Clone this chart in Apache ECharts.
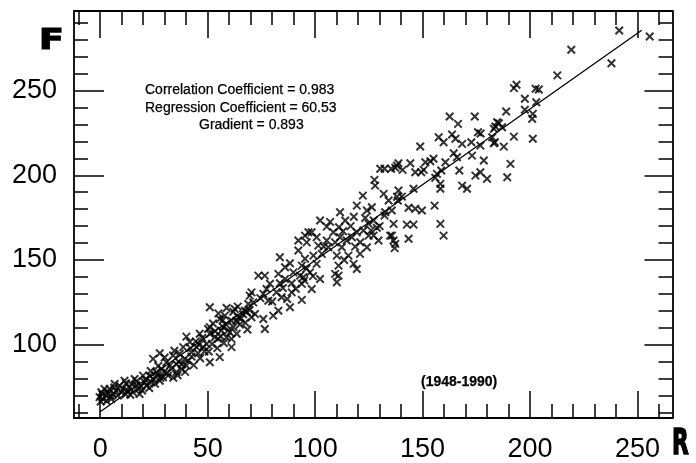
<!DOCTYPE html>
<html>
<head>
<meta charset="utf-8">
<script src="https://cdn.jsdelivr.net/npm/echarts@6/dist/echarts.min.js"></script>
<style>
  html, body { margin: 0; padding: 0; background: #fff; }
  #chart { width: 696px; height: 463px; }
</style>
</head>
<body>
<div id="chart"></div>
<script>
// Sunspot number R and 10.7 cm solar flux F, 1948-1990
const sunspotR = [
  241.5, 255.7, 219.2, 237.9, 212.7, 192.5, 193.7, 202.6, 204.1, 197.6, 202.9, 188.9,
  197.6, 201.3, 201.0, 184.7, 187.0, 183.2, 192.5, 201.3, 183.6, 187.8, 190.9, 189.4,
  162.6, 166.5, 174.3, 185.5, 183.9, 175.8, 177.0, 182.4, 157.5, 159.8, 163.7, 165.3,
  168.4, 172.7, 176.9, 148.9, 183.2, 164.5, 166.0, 173.0, 178.5, 155.1, 153.6, 151.3,
  160.6, 144.3, 138.8, 137.3, 140.7, 132.3, 135.4, 146.6, 149.4, 156.7, 158.7, 167.1,
  174.6, 176.9, 180.0, 155.9, 158.3, 158.3, 168.4, 170.7, 131.9, 138.1, 145.8, 134.2,
  138.5, 143.5, 146.6, 149.7, 155.6, 132.3, 136.5, 142.7, 145.8, 158.3, 159.8, 135.7,
  143.5, 137.3,
  130.3, 138.1, 150.5, 127.6, 127.9, 138.8, 140.4, 122.2, 119.4, 124.1, 126.4, 132.6,
  135.7, 111.6, 114.0, 111.1, 102.3, 105.4, 108.5, 123.3, 127.2, 124.9, 128.7, 119.4,
  122.5, 124.9, 127.2, 129.5, 134.9, 136.5, 137.0, 117.1, 114.7, 111.6, 109.3, 105.4,
  100.7, 98.4, 95.3, 96.1, 106.2, 112.4, 118.6, 124.1, 120.9, 115.5, 110.1, 103.1,
  99.2, 95.3, 100.7, 110.9, 117.9, 119.4, 109.3, 97.6, 94.5,
  96.9, 92.2, 92.2, 83.6, 88.3, 86.0, 93.8, 89.9, 93.0, 102.3, 110.9, 110.1,
  82.9, 86.0, 83.6, 89.1, 93.8, 98.4, 93.8, 89.1, 84.4, 88.3, 82.9, 80.5,
  77.4, 75.9, 73.6, 76.6, 70.4, 69.6, 78.2, 71.2, 72.0, 70.4, 75.9, 76.6,
  67.3, 62.6, 58.8, 51.0, 58.0, 55.6, 61.1, 64.2, 50.2, 56.4, 60.3, 53.3, 58.8,
  61.9, 68.1, 68.9, 63.4, 57.2, 51.0, 51.0, 54.9, 61.1, 61.1, 55.6, 51.0,
  40.1, 46.3, 41.7, 44.8, 47.9, 38.6, 42.4, 37.0, 33.9, 27.7, 24.6, 30.8,
  35.4, 39.3, 40.1, 37.8, 33.1, 28.5, 26.1, 29.2, 31.6, 23.0, 19.9, 20.7,
  23.8, 27.7, 16.0, 14.5, 11.3, 9.0, 6.7, 4.3, 2.0, 0.5, -0.3, 2.8,
  5.9, 9.8, 12.9, 17.6, 18.3, 1.3, 5.1,
  0.2, 1.0, 3.5, 4.8, 7.5, 8.2, 10.5, 11.8, 3.0, 6.5,
  13.5, 15.2, 16.8, 14.0, 19.0, 19.5, 12.0, 17.0,
  21.5, 22.8, 24.5, 25.5, 26.8, 28.0, 21.0, 29.8, 23.5, 27.0,
  31.0, 32.5, 34.0, 35.5, 36.5, 38.0, 39.5, 30.0, 34.5, 36.0,
  41.0, 42.5, 43.5, 44.5, 45.5, 46.5, 47.5, 48.5, 49.5, 42.0, 46.0,
  50.5, 52.0, 53.5, 54.5, 56.0, 57.5, 58.5, 59.5, 52.5, 55.0, 57.0,
  62.0, 63.5, 65.0, 66.5, 67.5, 68.5, 64.0, 69.5, 65.5,
  80.0, 82.0, 85.0, 87.0, 91.0, 95.0, 79.0, 74.5, 96.0, 99.0,
  113.0, 116.5, 118.0, 121.0, 126.0, 130.0, 107.0, 104.0, 101.5, 113.5
];
const fluxF = [
  285.4, 281.9, 274.0, 266.1, 258.9, 251.4, 253.4, 251.0, 250.6, 245.1, 243.1, 237.6,
  238.6, 236.2, 233.3, 231.3, 228.3, 227.4, 222.8, 221.5, 219.5, 216.9, 206.7, 198.8,
  234.7, 230.3, 234.7, 230.7, 228.8, 225.4, 224.6, 222.4, 222.4, 219.5, 224.0, 221.5,
  218.5, 219.5, 217.5, 217.0, 218.9, 213.0, 210.6, 211.6, 208.7, 209.7, 208.3, 207.7,
  207.7, 207.1, 207.1, 204.4, 203.2, 203.8, 203.8, 201.8, 201.8, 200.8, 202.8, 202.8,
  199.8, 201.8, 197.9, 198.5, 194.9, 192.0, 193.9, 192.0, 189.0, 187.3, 192.0, 185.1,
  185.1, 180.8, 180.2, 179.2, 182.1, 176.2, 171.3, 170.9, 170.9, 171.3, 164.4, 164.4,
  162.5, 159.5,
  203.8, 205.7, 203.2, 197.3, 193.9, 191.0, 187.4, 188.0, 182.1, 179.2, 181.1, 178.2,
  179.2, 178.2, 173.3, 169.3, 173.3, 169.7, 166.4, 174.8, 173.3, 171.3, 169.0, 166.4,
  167.4, 164.4, 164.4, 161.5, 164.4, 161.5, 157.0, 163.4, 161.5, 163.4, 160.4, 161.5,
  163.4, 166.4, 164.4, 160.4, 157.5, 157.5, 157.9, 157.5, 153.6, 152.6, 152.6, 153.6,
  152.6, 150.7, 147.7, 146.7, 147.7, 144.7, 141.8, 142.7, 139.8,
  166.4, 161.5, 155.6, 151.6, 148.1, 145.7, 146.7, 142.7, 140.8, 138.8, 140.8, 136.9,
  141.8, 138.8, 136.3, 136.3, 135.9, 132.9, 126.5, 130.9, 128.0, 122.1, 120.1, 117.2,
  132.9, 130.0, 140.8, 140.8, 130.9, 129.0, 126.0, 125.0, 118.2, 116.2, 115.2, 109.3,
  120.1, 121.1, 121.7, 122.1, 117.2, 115.2, 114.2, 116.2, 109.3, 108.3, 107.3, 104.4, 104.4,
  119.5, 119.5, 124.1, 114.2, 110.4, 110.4, 106.5, 103.5, 103.5, 98.6, 92.7, 89.7,
  104.8, 106.5, 101.6, 98.6, 98.6, 98.6, 95.6, 94.7, 93.7, 95.0, 91.7, 89.7,
  88.7, 91.7, 87.7, 85.7, 85.7, 85.7, 83.8, 80.8, 81.8, 81.8, 81.8, 77.9,
  77.9, 78.8, 79.8, 76.9, 78.8, 75.9, 76.9, 73.9, 73.9, 72.0, 69.1, 70.0,
  71.0, 72.0, 72.9, 73.9, 71.0, 68.0, 68.0,
  66.5, 70.8, 72.2, 69.5, 72.5, 70.0, 74.3, 70.8, 66.8, 74.8,
  75.0, 72.0, 76.2, 70.5, 75.5, 73.0, 77.2, 78.5,
  76.0, 74.5, 80.0, 77.0, 82.0, 80.5, 79.5, 84.0, 84.5, 87.5,
  83.5, 88.0, 80.5, 84.0, 90.0, 88.5, 84.0, 92.5, 96.5, 82.0,
  90.5, 93.0, 88.0, 102.0, 95.0, 92.0, 104.0, 96.0, 100.5, 98.0, 100.0,
  96.0, 100.5, 108.0, 98.0, 105.0, 101.0, 112.0, 108.5, 112.5, 118.5, 114.5,
  110.5, 106.5, 112.0, 118.0, 113.0, 109.0, 122.5, 120.5, 115.5,
  125.5, 131.0, 133.5, 127.0, 133.0, 138.0, 136.0, 127.5, 145.0, 140.5,
  167.0, 170.0, 175.5, 160.5, 167.5, 170.0, 172.5, 158.0, 158.5, 150.0
];

// Least-squares fit: F = intercept + gradient * R
const correlation = 0.983;
const intercept = 60.53;
const gradient = 0.893;
const fitRange = [0, 252];

// Axis ranges and tick positions
const xRange = [-12.2, 266.3];
const yRange = [56.8, 296.9];
const xMajor = [0, 50, 100, 150, 200, 250];
const xMinor = [-10, 10, 20, 30, 40, 60, 70, 80, 90, 110, 120, 130, 140, 160, 170, 180, 190, 210, 220, 230, 240, 260];
const yMajor = [100, 150, 200, 250];
const yMinor = [60, 70, 80, 90, 110, 120, 130, 140, 160, 170, 180, 190, 210, 220, 230, 240, 260, 270, 280, 290];

const FONT = '"Liberation Sans", Arial, Helvetica, sans-serif';
const HEAVY = '"DejaVu Sans", "Liberation Sans", sans-serif';

const points = sunspotR.map((r, i) => [r, fluxF[i]]);
const fitLine = fitRange.map(r => [r, intercept + gradient * r]);

function axis(kind, position, ticks, len, withLine, labels) {
  const a = {
    type: 'value',
    position: position,
    min: kind === 'x' ? xRange[0] : yRange[0],
    max: kind === 'x' ? xRange[1] : yRange[1],
    splitLine: { show: false },
    axisLine: { show: withLine, onZero: false, lineStyle: { color: '#000', width: 1.8 } },
    axisTick: { show: true, inside: true, length: len, customValues: ticks,
                lineStyle: { color: '#000', width: 1.5 } },
    axisLabel: { show: false }
  };
  if (labels) {
    a.axisLabel = {
      show: true, customValues: labels, color: '#000',
      fontFamily: FONT, fontSize: 27,
      margin: kind === 'x' ? 18 : 17
    };
  }
  return a;
}

function note(text, x, y, font) {
  return { type: 'text', x: x, y: y,
    style: { text: text, x: 0, y: 0, textAlign: 'left', textVerticalAlign: 'middle',
             font: font, fill: '#000', stroke: '#000', lineWidth: 0.25 } };
}

const chart = echarts.init(document.getElementById('chart'), null, { renderer: 'canvas' });
chart.setOption({
  animation: false,
  backgroundColor: '#fff',
  grid: { left: 74, top: 11, width: 598.5, height: 408.5, containLabel: false },
  xAxis: [
    axis('x', 'bottom', xMajor, 27, true, xMajor),
    axis('x', 'bottom', xMinor, 14, false, null),
    axis('x', 'top', xMajor, 27, true, null),
    axis('x', 'top', xMinor, 14, false, null)
  ],
  yAxis: [
    axis('y', 'left', yMajor, 30, true, yMajor),
    axis('y', 'left', yMinor, 14, false, null),
    axis('y', 'right', yMajor, 28, true, null),
    axis('y', 'right', yMinor, 14, false, null)
  ],
  series: [
    {
      type: 'scatter',
      xAxisIndex: 0, yAxisIndex: 0,
      data: points,
      symbol: 'path://M0,0L10,10M10,0L0,10',
      symbolSize: 7.5,
      itemStyle: { color: 'rgba(0,0,0,0)', borderColor: '#000', borderWidth: 2 },
      silent: true
    },
    {
      type: 'line',
      xAxisIndex: 0, yAxisIndex: 0,
      data: fitLine,
      symbol: 'none',
      lineStyle: { color: '#000', width: 1.3 },
      silent: true
    }
  ],
  graphic: [
    { type: 'text', x: 39, y: 42, scaleX: 1.3,
      style: { text: 'F', x: 0, y: 0, textAlign: 'left', textVerticalAlign: 'middle',
               font: 'bold 28px ' + HEAVY, fill: '#000', stroke: '#000', lineWidth: 1.2 } },
    { type: 'text', x: 672, y: 445, scaleX: 0.62,
      style: { text: 'R', x: 0, y: 0, textAlign: 'left', textVerticalAlign: 'middle',
               font: 'bold 35px ' + HEAVY, fill: '#000', stroke: '#000', lineWidth: 1.6 } },
    note('Correlation Coefficient = ' + correlation.toFixed(3), 145, 90, '14px ' + FONT),
    note('Regression Coefficient = ' + intercept.toFixed(2), 145, 108, '14px ' + FONT),
    note('Gradient = ' + gradient.toFixed(3), 199, 125, '14px ' + FONT),
    note('(1948-1990)', 421, 382, 'bold 14px ' + FONT)
  ]
});
</script>
</body>
</html>
